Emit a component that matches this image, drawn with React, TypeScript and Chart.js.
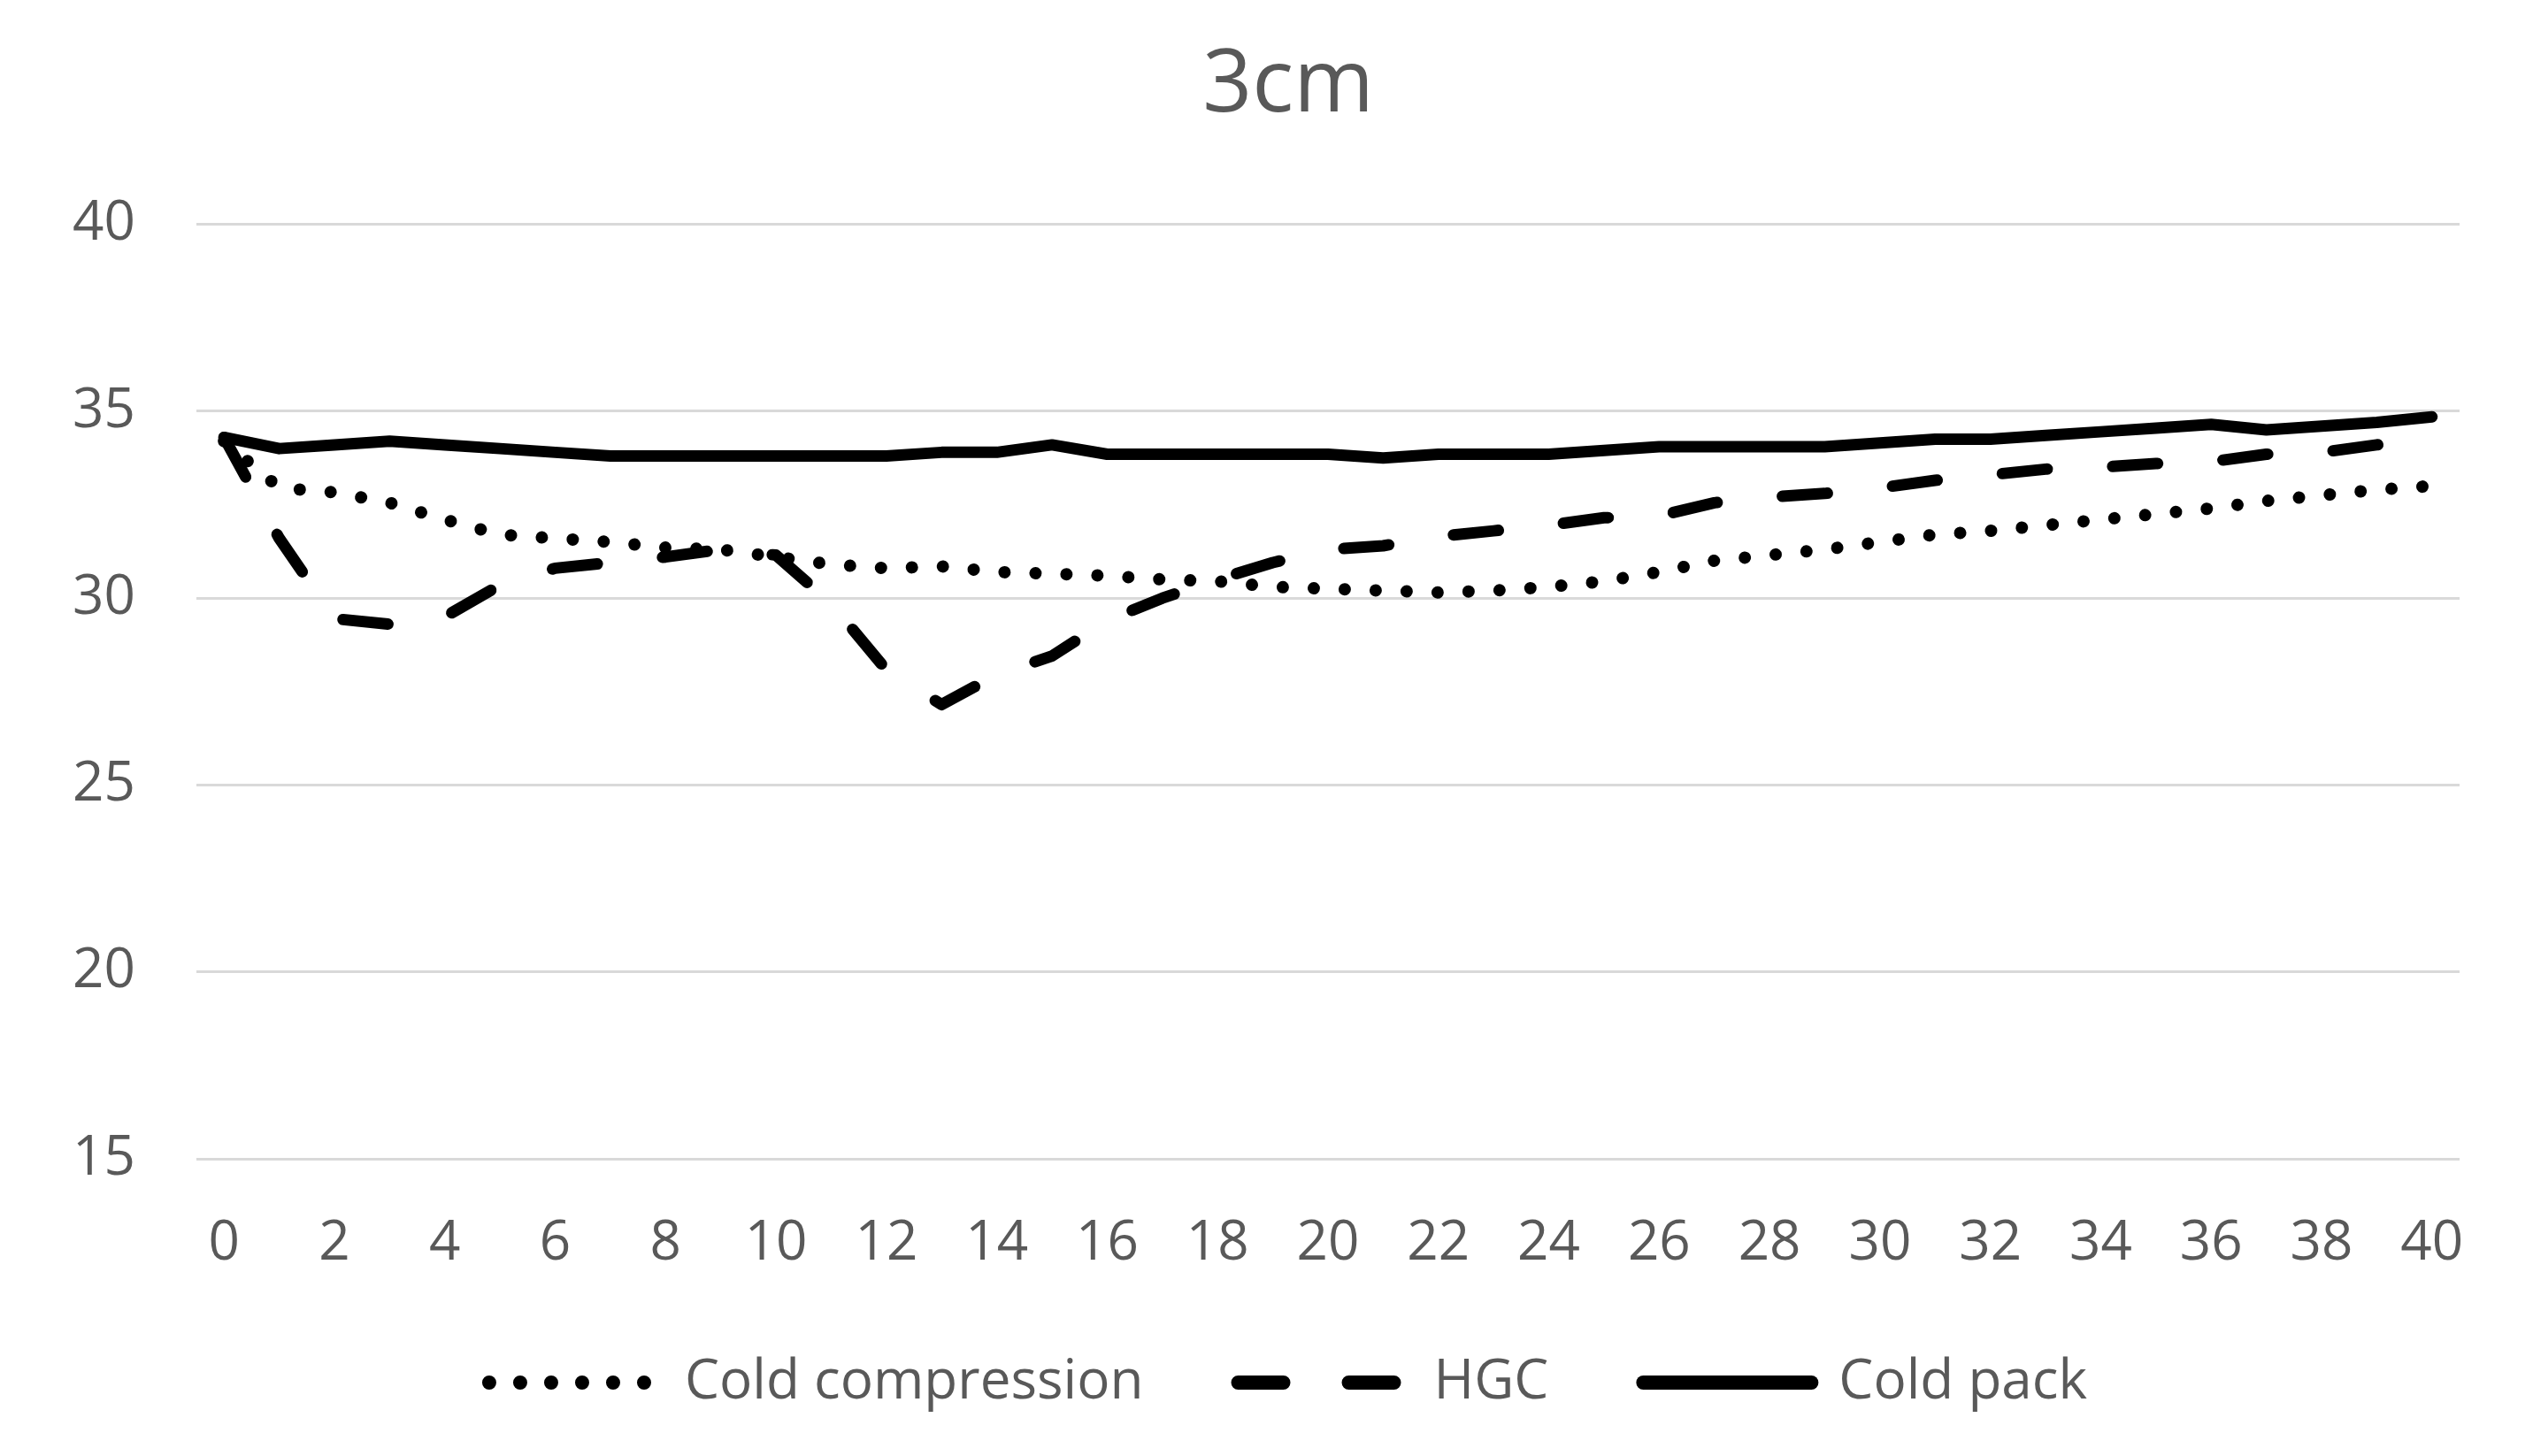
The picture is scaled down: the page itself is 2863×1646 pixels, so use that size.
import { useEffect, useRef } from "react";
import { Chart, registerables } from "chart.js";

Chart.register(...registerables);

const titleText = "3cm";

const minutes = [
  "0", "1", "2", "3", "4", "5", "6", "7", "8", "9", "10",
  "11", "12", "13", "14", "15", "16", "17", "18", "19", "20",
  "21", "22", "23", "24", "25", "26", "27", "28", "29", "30",
  "31", "32", "33", "34", "35", "36", "37", "38", "39", "40",
];

const coldCompression = [
  34.2, 32.95, 32.83, 32.55, 32.1, 31.7, 31.6, 31.5, 31.35, 31.3, 31.1,
  30.9, 30.8, 30.85, 30.7, 30.65, 30.6, 30.5, 30.45, 30.3, 30.25,
  30.2, 30.15, 30.2, 30.3, 30.45, 30.7, 31.0, 31.15, 31.3, 31.5,
  31.7, 31.8, 31.95, 32.1, 32.25, 32.4, 32.6, 32.75, 32.9, 33.0,
];

const hgc = [
  34.3, 31.6, 29.45, 29.3, 29.5, 30.35, 30.8, 30.95, 31.1, 31.3, 31.15,
  29.85, 28.08, 27.15, 27.95, 28.45, 29.4, 30.0, 30.5, 30.95, 31.3,
  31.4, 31.65, 31.8, 31.95, 32.15, 32.2, 32.55, 32.7, 32.8, 32.95,
  33.15, 33.3, 33.45, 33.5, 33.6, 33.65, 33.85, 33.9, 34.1, 34.3,
];

const coldPack = [
  34.3, 34.0, 34.1, 34.2, 34.1, 34.0, 33.9, 33.8, 33.8, 33.8, 33.8,
  33.8, 33.8, 33.9, 33.9, 34.1, 33.85, 33.85, 33.85, 33.85, 33.85,
  33.75, 33.85, 33.85, 33.85, 33.95, 34.05, 34.05, 34.05, 34.05, 34.15,
  34.25, 34.25, 34.35, 34.45, 34.55, 34.65, 34.5, 34.6, 34.7, 34.85,
];

const seriesNames = ["Cold compression", "HGC", "Cold pack"];

const yMin = 15;
const yMax = 40;
const yStep = 5;

const FONT = "'Open Sans', 'Noto Sans', sans-serif";
const TEXT = "#595959";

export default function App() {
  const ref = useRef<HTMLCanvasElement>(null);

  useEffect(() => {
    document.body.style.margin = "0";
    const canvas = ref.current;
    if (!canvas) return;
    const common = {
      borderColor: "#000000",
      backgroundColor: "#000000",
      borderJoinStyle: "round" as const,
      pointRadius: 0,
      pointHoverRadius: 0,
      tension: 0,
      fill: false,
    };
    const chart = new Chart(canvas, {
      type: "line",
      data: {
        labels: minutes,
        datasets: [
          {
            ...common,
            label: seriesNames[0],
            data: coldCompression,
            borderWidth: 14,
            borderDash: [0.01, 35],
            borderCapStyle: "round",
          },
          {
            ...common,
            label: seriesNames[1],
            data: hgc,
            borderWidth: 13,
            borderDash: [51, 74],
            borderCapStyle: "round",
          },
          {
            ...common,
            label: seriesNames[2],
            data: coldPack,
            borderWidth: 13,
            borderCapStyle: "round",
          },
        ],
      },
      plugins: [
        {
          id: "yLabelRoom",
          afterLayout: (c: any) => {
            c.scales.y.left = 0;
          },
        },
      ],
      options: {
        responsive: false,
        animation: false,
        devicePixelRatio: 1,
        layout: { padding: { left: 132, right: 83, top: 0, bottom: 42 } },
        plugins: {
          title: {
            display: true,
            text: titleText,
            color: TEXT,
            font: { family: FONT, size: 98, weight: "normal" },
            padding: { top: 39, bottom: 97 },
          },
          legend: {
            display: true,
            position: "bottom",
            labels: {
              usePointStyle: true,
              pointStyle: "line",
              pointStyleWidth: 190,
              padding: 107,
              color: TEXT,
              font: { family: FONT, size: 62 },
              generateLabels: (c: any) => {
                const items = (Chart.defaults.plugins.legend.labels as any).generateLabels(c);
                return items.map((it: any) => {
                  const ds: any = c.data.datasets[it.datasetIndex];
                  return {
                    ...it,
                    lineDash: ds.borderDash || [],
                    lineCap: ds.borderCapStyle || "butt",
                    lineWidth: 16,
                    strokeStyle: "#000000",
                    fillStyle: "#000000",
                  };
                });
              },
            },
          },
          tooltip: { enabled: false },
        },
        scales: {
          x: {
            type: "category",
            offset: true,
            grid: { display: false, drawTicks: false },
            border: { display: false },
            afterFit: (scale: any) => {
              scale.paddingLeft = 0;
              scale.paddingRight = 0;
              scale.height = 115;
            },
            ticks: {
              autoSkip: false,
              maxRotation: 0,
              minRotation: 0,
              padding: 75,
              color: TEXT,
              font: { family: FONT, size: 62, lineHeight: 0.68 },
              callback: function (this: any, value: any, index: number) {
                return index % 2 === 0 ? minutes[index] : "";
              },
            },
          },
          y: {
            min: yMin,
            max: yMax,
            grid: { color: "#d9d9d9", lineWidth: 3, drawTicks: false },
            border: { display: false },
            afterFit: (scale: any) => {
              scale.width = 90;
            },
            ticks: {
              stepSize: yStep,
              padding: 69,
              color: TEXT,
              font: { family: FONT, size: 62 },
            },
          },
        },
      },
    });
    return () => chart.destroy();
  }, []);

  return (
    <div style={{ width: 2863, height: 1646, overflow: "hidden", background: "#ffffff" }}>
      <canvas ref={ref} width={2863} height={1646} style={{ display: "block" }} />
    </div>
  );
}
